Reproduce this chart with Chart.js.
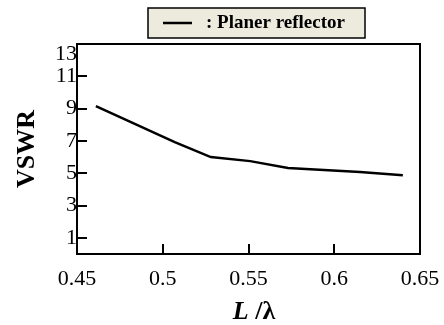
<!DOCTYPE html>
<html>
<head>
<meta charset="utf-8">
<script src="https://cdn.jsdelivr.net/npm/chart.js@4"></script>
<style>
  html, body { margin: 0; padding: 0; background: #fff; }
</style>
</head>
<body>
<canvas id="myChart" width="444" height="325"></canvas>
<script>
// L / lambda  vs  VSWR, planer reflector
const ratios = [0.461, 0.507, 0.528, 0.551, 0.573, 0.615, 0.640];
const vswr = [9.15, 6.93, 6.0, 5.75, 5.32, 5.07, 4.88];
const xTicks = [0.45, 0.5, 0.55, 0.6, 0.65];
const yTicks = [1, 3, 5, 7, 9, 11, 13];
const seriesName = ": Planer reflector";

const serif = "'Liberation Serif', 'Times New Roman', serif";

// frame, inward ticks, y labels, x title and the boxed legend
const decor = {
    id: 'decor',
    afterDraw(chart) {
        const { ctx, chartArea: a, scales: { x, y } } = chart;
        ctx.save();
        ctx.strokeStyle = '#000';
        ctx.lineWidth = 2;
        ctx.strokeRect(a.left, a.top, a.right - a.left, a.bottom - a.top);

        ctx.beginPath();
        yTicks.forEach(v => {
            if (v === y.max) return;
            const py = Math.round(y.getPixelForValue(v));
            ctx.moveTo(a.left, py);
            ctx.lineTo(a.left + 10, py);
        });
        xTicks.forEach(v => {
            if (v === x.min || v === x.max) return;
            const px = Math.round(x.getPixelForValue(v));
            ctx.moveTo(px, a.bottom);
            ctx.lineTo(px, a.bottom - 10);
        });
        ctx.stroke();

        ctx.fillStyle = '#000';
        ctx.font = '22px ' + serif;
        ctx.textAlign = 'right';
        ctx.textBaseline = 'middle';
        yTicks.forEach(v => {
            let py = y.getPixelForValue(v);
            if (v === y.max) py += 10;
            ctx.fillText(String(v), a.left, py);
        });

        // x title: italic L, then /λ
        ctx.textAlign = 'left';
        ctx.textBaseline = 'alphabetic';
        const f1 = 'italic bold 26px ' + serif;
        const f2 = 'bold 26px ' + serif;
        ctx.font = f1;
        const w1 = ctx.measureText('L ').width;
        ctx.font = f2;
        const w2 = ctx.measureText('/\u03bb').width;
        let tx = 254 - (w1 + w2) / 2;
        ctx.font = f1;
        ctx.fillText('L ', tx, 319);
        ctx.font = f2;
        ctx.fillText('/\u03bb', tx + w1, 319);

        // legend box
        const ds = chart.data.datasets[0];
        ctx.fillStyle = '#ECEBDD';
        ctx.fillRect(148, 8, 217, 30);
        ctx.lineWidth = 1.5;
        ctx.strokeRect(148, 8, 217, 30);
        ctx.beginPath();
        ctx.lineWidth = ds.borderWidth;
        ctx.strokeStyle = ds.borderColor;
        ctx.moveTo(163, 23);
        ctx.lineTo(192, 23);
        ctx.stroke();
        ctx.fillStyle = '#000';
        ctx.font = 'bold 19px ' + serif;
        ctx.textBaseline = 'middle';
        ctx.fillText(ds.label, 206, 23);
        ctx.restore();
    }
};

const ctx = document.getElementById('myChart');

new Chart(ctx, {
    type: 'line',
    data: {
        datasets: [
            {
                label: seriesName,
                data: ratios.map((r, i) => ({ x: r, y: vswr[i] })),
                borderColor: '#000',
                borderWidth: 2.5,
                pointRadius: 0,
                tension: 0,
                fill: false
            }
        ]
    },
    options: {
        responsive: false,
        animation: false,
        layout: { padding: { left: 0, top: 44, right: 24, bottom: 0 } },
        plugins: {
            legend: { display: false },
            tooltip: { enabled: false }
        },
        scales: {
            x: {
                type: 'linear',
                min: 0.45,
                max: 0.65,
                afterBuildTicks: s => { s.ticks = xTicks.map(v => ({ value: v })); },
                afterFit: s => {
                    s.height = 71;
                    s.paddingLeft = 0;
                    s.paddingRight = 0;
                },
                grid: { display: false, drawTicks: false },
                border: { display: false },
                ticks: {
                    padding: 12,
                    color: '#000',
                    font: { family: serif, size: 22 },
                    maxRotation: 0,
                    callback: v => String(v)
                }
            },
            y: {
                min: 0,
                max: 13,
                afterBuildTicks: s => { s.ticks = yTicks.map(v => ({ value: v })); },
                afterFit: s => { s.width = 77; },
                grid: { display: false, drawTicks: false },
                border: { display: false },
                ticks: { display: false },
                title: {
                    display: true,
                    text: 'VSWR',
                    color: '#000',
                    font: { family: serif, size: 26, weight: 'bold' },
                    padding: { top: 12, bottom: 0 }
                }
            }
        }
    },
    plugins: [decor]
});
</script>
</body>
</html>
